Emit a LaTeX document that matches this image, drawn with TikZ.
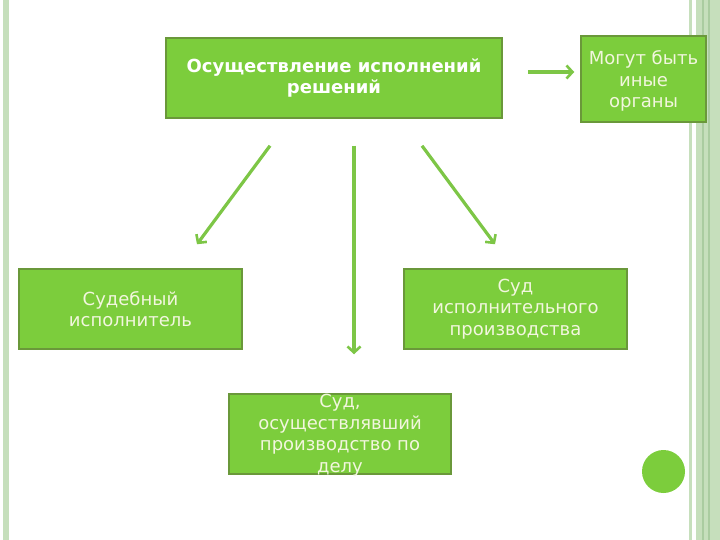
\documentclass[tikz,border=0pt]{standalone}
\usepackage{fontspec}
\setmainfont{DejaVu Sans}
\usepackage{tikz}
\usetikzlibrary{arrows.meta}
\definecolor{boxGreen}{RGB}{124, 205, 60}
\definecolor{boxEdge}{RGB}{106, 152, 58}
\definecolor{arrowGreen}{RGB}{125, 198, 70}
\definecolor{textCream}{RGB}{242, 246, 222}
\definecolor{stripeGreen}{RGB}{198, 223, 188}
\definecolor{stripeDark}{RGB}{170, 204, 160}

\begin{document}
\begin{tikzpicture}[x=1pt, y=-1pt,
    box/.style={draw=boxEdge, fill=boxGreen, line width=1.5pt, text=textCream,
      align=center, inner sep=0pt, font=\fontsize{18}{21.5}\selectfont},
    link/.style={arrowGreen, line width=3.2pt, -{Straight Barb[length=6pt, width=13pt, line width=2.6pt]}}]
      \useasboundingbox (0,0) rectangle (720,540);
      \fill[stripeGreen] (3,0) rectangle (9,540);
      \fill[stripeGreen] (689,0) rectangle (692,540);
      \fill[stripeGreen] (696,0) rectangle (720,540);
      \fill[stripeDark] (702,0) rectangle (703.5,540);
      \fill[stripeDark] (708,0) rectangle (709.5,540);

      \node[box, minimum width=336, minimum height=80, text=white,
        font=\bfseries\fontsize{18}{21}\selectfont] (exec) at (334,78)
        {Осуществление исполнений\\решений};
      \node[box, minimum width=125, minimum height=86, text height=72, text depth=14] (other) at (643.5,79)
        {Могут быть\\иные\\органы};
      \node[box, minimum width=223, minimum height=80] (bailiff) at (130.5,309)
        {Судебный\\исполнитель};
      \node[box, minimum width=223, minimum height=80] (court) at (515.5,309)
        {Суд\\исполнительного\\производства};
      \node[box, minimum width=222, minimum height=80, text height=78, text depth=2] (trial) at (340,434)
        {Суд,\\осуществлявший\\производство по\\делу};

      \draw[link] ([xshift=25, yshift=6]exec.east) -- ([xshift=-6, yshift=7]other.west);
      \draw[link] ([xshift=-64, yshift=-27]exec.south) -- ([xshift=66.5, yshift=24]bailiff.north);
      \draw[link] ([xshift=20, yshift=-27]exec.south) -- ([xshift=14, yshift=39]trial.north);
      \draw[link] ([xshift=88, yshift=-27]exec.south) -- ([xshift=-20.5, yshift=24]court.north);

      \fill[boxGreen] (663.5,471.5) circle (21.5);
    \end{tikzpicture}
\end{document}
